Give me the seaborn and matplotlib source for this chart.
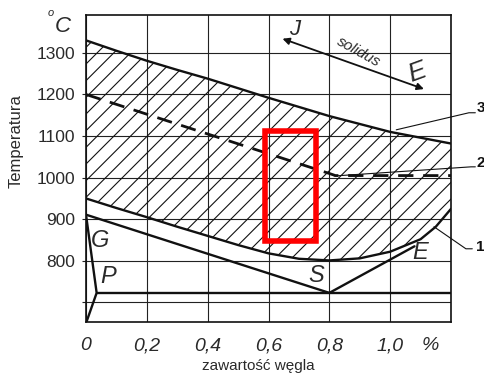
import matplotlib
matplotlib.use("Agg")
import matplotlib.pyplot as plt
import seaborn as sns
import numpy as np
import pandas as pd
from matplotlib.patches import Rectangle

# ---------------- data ----------------
x_fill = [0.0, 0.1, 0.2, 0.3, 0.4, 0.5, 0.6, 0.7, 0.8, 0.9, 1.0, 1.1, 1.15, 1.2]
upper_3 = [1330, 1305, 1281, 1259, 1238, 1215, 1192, 1170, 1148, 1129, 1110, 1096, 1089, 1082]
lower_1 = [950, 927, 905, 882, 860, 838, 818, 805, 801, 806, 822, 852, 882, 925]

dash_x = [0.0, 0.8, 0.82, 1.2]
dash_y = [1200, 1010, 1005, 1005]

gs_x = [0.0, 0.8]          # G -> S
gs_y = [911, 723]
gp_x = [0.0, 0.035, 0.0]   # G -> P -> bottom
gp_y = [911, 723, 650]
pk_x = [0.035, 1.2]        # eutectoid line
pk_y = [723, 723]
se_x = [0.8, 1.08]         # S -> E
se_y = [723, 835]

rect_x = [0.59, 0.755]
rect_y = [848, 1112]

xticks = [0.0, 0.2, 0.4, 0.6, 0.8, 1.0]
xtick_labels = ["0", "0,2", "0,4", "0,6", "0,8", "1,0"]
yticks = [700, 800, 900, 1000, 1100, 1200, 1300]
ytick_labels = ["", "800", "900", "1000", "1100", "1200", "1300"]

# ---------------- style ----------------
sns.set_theme(style="white")
plt.rcParams["font.family"] = ["Liberation Sans", "DejaVu Sans"]
plt.rcParams["hatch.linewidth"] = 0.8
plt.rcParams["hatch.color"] = "#111111"

NARROW = ["Liberation Sans Narrow", "Liberation Sans", "DejaVu Sans"]
INK = "#111111"
TXT = "#2a2a2a"

fig = plt.figure(figsize=(4.85, 3.75), dpi=100)
ax = fig.add_axes([86/485, 1-322/375, (451-86)/485, (322-15)/375])
ax.set_xlim(0, 1.197)
ax.set_ylim(653, 1391)

# grid
ax.set_xticks(xticks + [1.2])
ax.set_xticklabels(xtick_labels + [""], fontsize=14, family=NARROW, style="italic", color=TXT)
ax.set_yticks(yticks)
ax.set_yticklabels(ytick_labels, fontsize=12.5, color=TXT)
ax.grid(True, color="#222222", linewidth=0.8)
ax.tick_params(axis="x", length=0, pad=11)
ax.tick_params(axis="y", length=3, width=0.8, color="#222222", pad=5, left=True)
for s in ax.spines.values():
    s.set_color(INK)
    s.set_linewidth(1.2)
    s.set_visible(True)

# hatched region
ax.fill_between(x_fill, lower_1, upper_3, facecolor="none", edgecolor=INK,
                hatch="//", linewidth=0, zorder=2)

lw = 1.7
def draw(xs, ys, **kw):
    df = pd.DataFrame({"x": xs, "y": ys})
    sns.lineplot(data=df, x="x", y="y", sort=False, estimator=None,
                 color=INK, linewidth=kw.pop("lw", lw), ax=ax, zorder=3, **kw)

draw(x_fill, upper_3)
draw(x_fill, lower_1)
draw(gs_x, gs_y)
draw(gp_x, gp_y)
draw(pk_x, pk_y)
draw(se_x, se_y)
ln = ax.plot(dash_x, dash_y, color=INK, linewidth=2.0, zorder=3)[0]
ln.set_dashes((5.5, 3.5))
ax.set_xlabel("")
ax.set_ylabel("")

# red rectangle
ax.add_patch(Rectangle((rect_x[0], rect_y[0]), rect_x[1]-rect_x[0], rect_y[1]-rect_y[0],
                       fill=False, edgecolor="#ff0000", linewidth=4, zorder=5))

# letters
lt = dict(family=NARROW, style="italic", color=TXT, ha="center", va="center", zorder=6)
ax.text(0.046, 850, "G", fontsize=17, **lt)
ax.text(0.074, 762, "P", fontsize=17, **lt)
ax.text(0.757, 764, "S", fontsize=17, **lt)
ax.text(1.10, 819, "E", fontsize=17, **lt)
ax.text(0.685, 1357, "J", fontsize=16, **lt)
ax.text(1.09, 1252, "E", fontsize=19, rotation=20, **lt)
ax.text(0.898, 1302, "solidus", fontsize=11, rotation=-29, **lt)
ax.annotate("", xy=(0.646, 1334), xytext=(1.111, 1213),
            arrowprops=dict(arrowstyle="<|-|>", color=INK, lw=1.3,
                            mutation_scale=10, shrinkA=0, shrinkB=0), zorder=6)

# leader lines and numbers (outside axes)
ll = dict(color=INK, linewidth=0.8, clip_on=False, zorder=6)
ax.plot([1.02, 1.259, 1.28], [1115, 1156, 1156], **ll)
ax.plot([0.816, 1.266, 1.28], [1004, 1026, 1026], **ll)
ax.plot([1.144, 1.249, 1.27], [882, 829, 829], **ll)
nt = dict(fontsize=11, fontweight="bold", color=INK, ha="left", va="center", clip_on=False)
ax.text(1.283, 1168, "3", **nt)
ax.text(1.283, 1036, "2", **nt)
ax.text(1.283, 834, "1", **nt)

# axis texts
fig.text(430/485, 1-345/375, "%", fontsize=14, family=NARROW, style="italic", color=TXT,
         ha="center", va="center")
fig.text(63/485, 1-26/375, "C", fontsize=16, family=NARROW, style="italic", color=TXT,
         ha="center", va="center")
fig.text(51/485, 1-13/375, "o", fontsize=8, family=NARROW, style="italic", color=TXT,
         ha="center", va="center")
fig.text(16/485, 1-141/375, "Temperatura", fontsize=12, rotation=90, color=TXT,
         ha="center", va="center")
fig.text(258/485, 1-366/375, "zawartość węgla", fontsize=11, color=TXT,
         ha="center", va="center")

fig.savefig("out.png", dpi=100)
